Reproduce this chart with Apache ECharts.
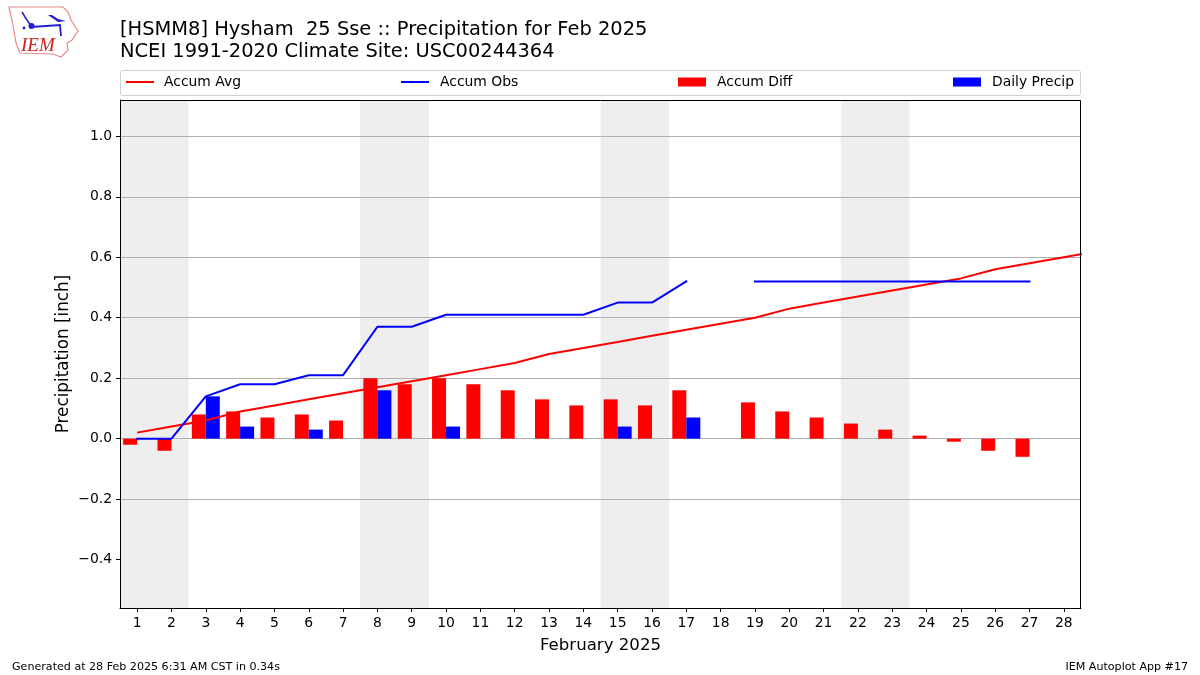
<!DOCTYPE html>
<html><head><meta charset="utf-8">
<script src="https://cdn.jsdelivr.net/npm/echarts@6/dist/echarts.min.js"></script>
<style>html,body{margin:0;padding:0;background:#fff}#c{width:1200px;height:675px}</style>
</head><body><div id="c"></div>
<script>
const titleLines = ["[HSMM8] Hysham  25 Sse :: Precipitation for Feb 2025", "NCEI 1991-2020 Climate Site: USC00244364"];
const dayLabels = ["1","2","3","4","5","6","7","8","9","10","11","12","13","14","15","16","17","18","19","20","21","22","23","24","25","26","27","28"];
const lineDays = [1,2,3,4,5,6,7,8,9,10,11,12,13,14,15,16,17,18,19,20,21,22,23,24,25,26,27,28,29];
const accumAvg = [.02,.04,.06,.09,.11,.13,.15,.17,.19,.21,.23,.25,.28,.30,.32,.34,.36,.38,.40,.43,.45,.47,.49,.51,.53,.56,.58,.60,.62];
const accumObs = [0,0,.14,.18,.18,.21,.21,.37,.37,.41,.41,.41,.41,.41,.45,.45,.52,null,.52,.52,.52,.52,.52,.52,.52,.52,.52,null,null];
const accumDiff = [-.02,-.04,.08,.09,.07,.08,.06,.20,.18,.20,.18,.16,.13,.11,.13,.11,.16,null,.12,.09,.07,.05,.03,.01,-.01,-.04,-.06,null];
const dailyPrecip = [0,0,.14,.04,0,.03,0,.16,0,.04,0,0,0,0,.04,0,.07,0,0,0,0,0,0,0,0,0,0,0];
const weekendSpans = [[0.5,2.5],[7.5,9.5],[14.5,16.5],[21.5,23.5]];
const yTicks = [-0.4,-0.2,0,0.2,0.4,0.6,0.8,1.0];
const FONT = '"DejaVu Sans"';
const pair = (xs, ys) => xs.map((x, i) => [x, ys[i]]);
const chart = echarts.init(document.getElementById('c'), null, {renderer:'canvas'});
const legendAt = (name, left, isLine, pad) => ({
  show:true, data:[{name, icon:'rect'}], left, top:75, orient:'horizontal', padding:0,
  itemWidth:28, itemHeight:isLine?2:9, itemGap:0, selectedMode:false,
  textStyle:{fontFamily:FONT,fontSize:13.9,color:'#000',padding:[0,0,0,pad]}
});
chart.setOption({
  animation:false,
  backgroundColor:'#fff',
  textStyle:{fontFamily:FONT},
  grid:{left:120,top:100,width:961,height:508,show:false,containLabel:false},
  legend:[legendAt('Accum Avg',126,true,5),legendAt('Accum Obs',401,true,6),legendAt('Accum Diff',678,false,6),legendAt('Daily Precip',953,false,6)],
  xAxis:[
    {type:'category',data:dayLabels,position:'bottom',z:2,
      axisLine:{show:true,onZero:false,lineStyle:{color:'#000',width:1}},
      axisTick:{show:true,alignWithLabel:true,length:4,lineStyle:{color:'#000'}},
      axisLabel:{color:'#000',fontSize:13.9,fontFamily:FONT,margin:8,interval:0},
      splitLine:{show:false},
      name:'February 2025',nameLocation:'middle',nameGap:29,nameTextStyle:{fontSize:16.6,fontFamily:FONT,color:'#000'}},
    {type:'value',min:0.5,max:28.5,show:false,splitLine:{show:false}}
  ],
  yAxis:[{type:'value',min:-0.56,max:1.12,interval:0.2,z:2,
    axisLine:{show:true,onZero:false,lineStyle:{color:'#000',width:1}},
    axisTick:{show:true,length:4,lineStyle:{color:'#000'},customValues:yTicks},
    axisLabel:{color:'#000',fontSize:13.9,fontFamily:FONT,margin:8,customValues:yTicks,
      formatter:v=>(+v).toFixed(1).replace('-','\u2212')},
    splitLine:{show:true,showMinLine:false,showMaxLine:true,lineStyle:{color:'#b0b0b0',width:1}},
    name:'Precipitation [inch]',nameLocation:'middle',nameGap:48,nameMoveOverlap:false,nameRotate:90,
    nameTextStyle:{fontSize:16.8,fontFamily:FONT,color:'#000'}}],
  series:[
    {name:'weekend',type:'line',xAxisIndex:1,data:[],z:1,silent:true,
      markArea:{silent:true,itemStyle:{color:'#eeeeee'},z:1,
        data:weekendSpans.map(s=>[{xAxis:s[0]},{xAxis:s[1]}])}},
    {name:'Accum Diff',type:'bar',xAxisIndex:0,data:accumDiff,barWidth:14,barGap:0,z:4,itemStyle:{color:'#ff0000'}},
    {name:'Daily Precip',type:'bar',xAxisIndex:0,data:dailyPrecip,barWidth:14,barGap:0,z:4,itemStyle:{color:'#0000ff'}},
    {name:'Accum Avg',type:'line',xAxisIndex:1,data:pair(lineDays,accumAvg),symbol:'none',z:5,lineStyle:{color:'#ff0000',width:2},itemStyle:{color:'#ff0000'}},
    {name:'Accum Obs',type:'line',xAxisIndex:1,data:pair(lineDays,accumObs),symbol:'none',z:5,connectNulls:false,lineStyle:{color:'#0000ff',width:2,cap:'square'},itemStyle:{color:'#0000ff'}}
  ],
  graphic:[
    {type:'rect',z:-1,shape:{x:120.5,y:70.5,width:960,height:25,r:2},style:{fill:'#fff',stroke:'#d0d0d0',lineWidth:1}},
    {type:'rect',z:10,silent:true,shape:{x:120.5,y:100.5,width:960,height:508},style:{fill:'none',stroke:'#000',lineWidth:1}},
    {type:'text',left:120,top:20,z:10,style:{text:titleLines[0],font:'19.45px '+FONT,fill:'#000'}},
    {type:'text',left:120,top:42,z:10,style:{text:titleLines[1],font:'19.45px '+FONT,fill:'#000'}},
    {type:'text',left:12,top:662,z:10,style:{text:'Generated at 28 Feb 2025 6:31 AM CST in 0.34s',font:'11.1px '+FONT,fill:'#000'}},
    {type:'text',right:12,top:662,z:10,style:{text:'IEM Autoplot App #17',font:'11.1px '+FONT,fill:'#000'}},
    {type:'polygon',z:10,silent:true,shape:{points:[[9,7],[63,7],[68,12],[71,20],[78,31],[72,40],[67,43],[68,50],[63,55],[61,57],[53,54],[20,53],[16,43],[13,25]]},style:{fill:'#fff',stroke:'#e58a8a',lineWidth:1.2}},
    {type:'polyline',z:11,silent:true,shape:{points:[[22,12],[25,17],[31,26]]},style:{stroke:'#2020d0',fill:'none',lineWidth:1.5}},
    {type:'polyline',z:11,silent:true,shape:{points:[[31,27],[60,25],[61,36]]},style:{stroke:'#2020d0',fill:'none',lineWidth:1.8}},
    {type:'polygon',z:11,silent:true,shape:{points:[[48,15],[52,15],[58,19],[66,21],[58,22]]},style:{fill:'#2020d0'}},
    {type:'circle',z:11,silent:true,shape:{cx:31.5,cy:26,r:3},style:{fill:'#2020d0'}},
    {type:'circle',z:11,silent:true,shape:{cx:24,cy:28,r:1.4},style:{fill:'#2020d0'}},
    {type:'text',left:21,top:36,z:11,style:{text:'IEM',font:'italic 19px "Liberation Serif"',fill:'#d02020'}}
  ]
});
</script></body></html>
